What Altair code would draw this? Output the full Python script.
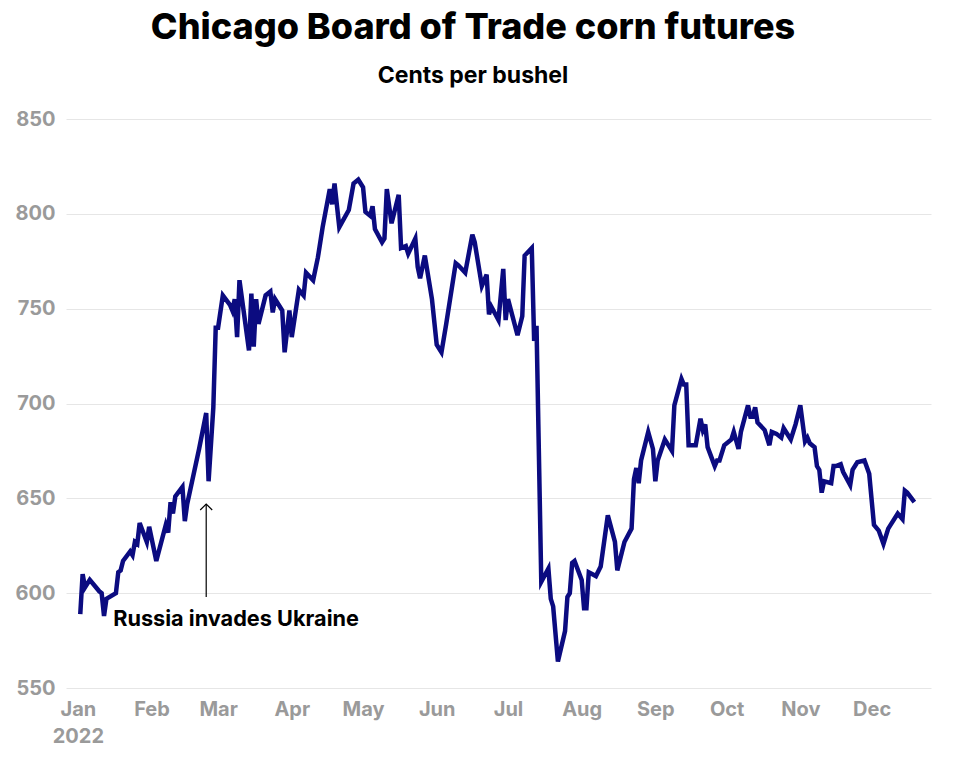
import altair as alt
import pandas as pd

FONT = "Inter"

dates = [
    "2022-01-02", "2022-01-03", "2022-01-04", "2022-01-06", "2022-01-10", "2022-01-11",
    "2022-01-12", "2022-01-13", "2022-01-17", "2022-01-18", "2022-01-19", "2022-01-20",
    "2022-01-23", "2022-01-24", "2022-01-25", "2022-01-26", "2022-01-27", "2022-01-30",
    "2022-01-31", "2022-02-03", "2022-02-07", "2022-02-08", "2022-02-09", "2022-02-10",
    "2022-02-11", "2022-02-14", "2022-02-15", "2022-02-16", "2022-02-21", "2022-02-24",
    "2022-02-25", "2022-02-27", "2022-02-28", "2022-03-01", "2022-03-03", "2022-03-06",
    "2022-03-07", "2022-03-08", "2022-03-09", "2022-03-10", "2022-03-14", "2022-03-15",
    "2022-03-16", "2022-03-17", "2022-03-18", "2022-03-21", "2022-03-23", "2022-03-24",
    "2022-03-25", "2022-03-28", "2022-03-29", "2022-03-31", "2022-04-01", "2022-04-04",
    "2022-04-06", "2022-04-07", "2022-04-10", "2022-04-12", "2022-04-14", "2022-04-17",
    "2022-04-18", "2022-04-19", "2022-04-21", "2022-04-25", "2022-04-27", "2022-04-29",
    "2022-05-01", "2022-05-02", "2022-05-04", "2022-05-05", "2022-05-06", "2022-05-09",
    "2022-05-10", "2022-05-11", "2022-05-13", "2022-05-16", "2022-05-17", "2022-05-19",
    "2022-05-20", "2022-05-23", "2022-05-24", "2022-05-25", "2022-05-27", "2022-05-30",
    "2022-06-01", "2022-06-03", "2022-06-05", "2022-06-09", "2022-06-10", "2022-06-13",
    "2022-06-16", "2022-06-17", "2022-06-20", "2022-06-22", "2022-06-23", "2022-06-24",
    "2022-06-27", "2022-06-29", "2022-06-30", "2022-07-01", "2022-07-05", "2022-07-07",
    "2022-07-08", "2022-07-11", "2022-07-12", "2022-07-13", "2022-07-15", "2022-07-18",
    "2022-07-19", "2022-07-20", "2022-07-22", "2022-07-25", "2022-07-26", "2022-07-27",
    "2022-07-28", "2022-07-29", "2022-08-01", "2022-08-02", "2022-08-03", "2022-08-04",
    "2022-08-07", "2022-08-09", "2022-08-12", "2022-08-15", "2022-08-16", "2022-08-19",
    "2022-08-22", "2022-08-23", "2022-08-24", "2022-08-25", "2022-08-26", "2022-08-29",
    "2022-08-31", "2022-09-01", "2022-09-02", "2022-09-05", "2022-09-07", "2022-09-08",
    "2022-09-09", "2022-09-12", "2022-09-13", "2022-09-14", "2022-09-15", "2022-09-18",
    "2022-09-20", "2022-09-21", "2022-09-22", "2022-09-23", "2022-09-26", "2022-09-27",
    "2022-09-28", "2022-09-30", "2022-10-03", "2022-10-04", "2022-10-06", "2022-10-07",
    "2022-10-10", "2022-10-11", "2022-10-12", "2022-10-13", "2022-10-14", "2022-10-17",
    "2022-10-19", "2022-10-20", "2022-10-22", "2022-10-24", "2022-10-25", "2022-10-26",
    "2022-10-28", "2022-10-30", "2022-11-01", "2022-11-03", "2022-11-04", "2022-11-05",
    "2022-11-07", "2022-11-08", "2022-11-09", "2022-11-10", "2022-11-11", "2022-11-14",
    "2022-11-15", "2022-11-16", "2022-11-18", "2022-11-19", "2022-11-22", "2022-11-23",
    "2022-11-25", "2022-11-28", "2022-11-30", "2022-12-02", "2022-12-04", "2022-12-06",
    "2022-12-08", "2022-12-12", "2022-12-14", "2022-12-15", "2022-12-16", "2022-12-19",
]

prices = [
    589, 610, 603, 607, 601, 600,
    588, 597, 600, 611, 612, 617,
    622, 620, 627, 626, 637, 627,
    635, 617, 636, 632, 648, 642,
    651, 656, 638, 647, 676, 695,
    659, 698, 740, 740, 757, 752,
    749, 755, 735, 765, 728, 758,
    730, 755, 742, 757, 759, 748,
    755, 749, 727, 749, 735, 760,
    757, 769, 765, 777, 793, 813,
    805, 816, 793, 802, 816, 818,
    814, 801, 799, 804, 792, 785,
    787, 813, 795, 810, 782, 783,
    779, 787, 772, 766, 778, 755,
    731, 727, 742, 774, 773, 769,
    789, 785, 762, 768, 747, 751,
    744, 771, 744, 755, 736, 746,
    778, 782, 733, 741, 606, 613,
    597, 593, 564, 580, 598, 600,
    616, 617, 607, 592, 592, 611,
    609, 614, 641, 627, 612, 627,
    634, 660, 666, 658, 670, 685,
    676, 659, 670, 681, 677, 675,
    699, 713, 710, 710, 678, 678,
    692, 686, 689, 677, 667, 670,
    670, 678, 681, 685, 676, 685,
    699, 693, 693, 698, 690, 686,
    678, 685, 684, 682, 687, 685,
    681, 689, 699, 680, 682, 679,
    677, 667, 665, 653, 659, 658,
    667, 667, 668, 664, 657, 665,
    669, 670, 663, 636, 633, 626,
    634, 642, 639, 654, 653, 648,
]

y_ticks = [550, 600, 650, 700, 750, 800, 850]
month_ticks = list(range(1, 13))

annotation_text = "Russia invades Ukraine"
annotation_date = "2022-02-24"
arrow_from = 598
arrow_to = 647
annotation_text_date = "2022-01-15"
annotation_text_value = 582.5

df = pd.DataFrame({"date": dates, "price": prices})
arrow_df = pd.DataFrame({"date": [annotation_date], "y0": [arrow_from], "y1": [arrow_to]})
text_df = pd.DataFrame({"date": [annotation_text_date], "value": [annotation_text_value],
                        "label": [annotation_text]})

x_scale = alt.Scale(
    type="utc",
    domain=[alt.DateTime(year=2021, month=12, date=27, utc=True),
            alt.DateTime(year=2022, month=12, date=26, utc=True)],
)
y_scale = alt.Scale(domain=[y_ticks[0], y_ticks[-1]], nice=False, zero=False)

x_axis = alt.Axis(
    values=[alt.DateTime(year=2022, month=m, date=1, utc=True) for m in month_ticks],
    labelExpr="utcmonth(datum.value) == 0 ? [utcFormat(datum.value, '%b'), utcFormat(datum.value, '%Y')] : utcFormat(datum.value, '%b')",
    grid=False, domain=False, ticks=False, labelPadding=11, labelLineHeight=27,
    labelAlign="center", title=None,
)
y_axis = alt.Axis(values=y_ticks, grid=True, domain=False, ticks=False,
                  labelPadding=11, title=None)

line = alt.Chart(df).mark_line(color="#0b0b80", strokeWidth=4.5).encode(
    x=alt.X("date:T", scale=x_scale, axis=x_axis),
    y=alt.Y("price:Q", scale=y_scale, axis=y_axis),
)

rule = alt.Chart(arrow_df).mark_rule(color="black", strokeWidth=1.2).encode(
    x=alt.X("date:T", scale=x_scale, axis=x_axis),
    y=alt.Y("y0:Q", scale=y_scale, axis=y_axis),
    y2="y1:Q",
)

head = alt.Chart(arrow_df).mark_point(
    shape="M-1,1L0,0L1,1", size=144, filled=False, color="black",
    strokeWidth=1.2, opacity=1,
).encode(
    x=alt.X("date:T", scale=x_scale, axis=x_axis),
    y=alt.Y("y1:Q", scale=y_scale, axis=y_axis),
)

text = alt.Chart(text_df).mark_text(
    align="left", baseline="alphabetic", font=FONT, fontSize=21.7,
    fontWeight="bold", color="black", dx=2,
).encode(
    x=alt.X("date:T", scale=x_scale, axis=x_axis),
    y=alt.Y("value:Q", scale=y_scale, axis=y_axis),
    text="label:N",
)

chart = alt.layer(line, rule, head, text).properties(
    width=865,
    height=569,
    autosize=alt.AutoSizeParams(type="none"),
    padding={"left": 58, "top": 111, "right": 21, "bottom": 66},
    title=alt.TitleParams(
        text="Chicago Board of Trade corn futures",
        subtitle="Cents per bushel",
        font=FONT, fontSize=36, fontWeight=800, color="black",
        subtitleFont=FONT, subtitleFontSize=23, subtitleFontWeight="bold",
        subtitleColor="black", anchor="middle", frame="bounds",
        offset=20, subtitlePadding=18,
    ),
).configure_view(stroke=None).configure_axis(
    labelFont=FONT, labelFontSize=20, labelFontWeight="bold",
    labelColor="#9a9a9a", gridColor="#e6e6e6", gridWidth=1,
)

chart.save("out.html", embed_options={"renderer": "svg", "actions": False})
